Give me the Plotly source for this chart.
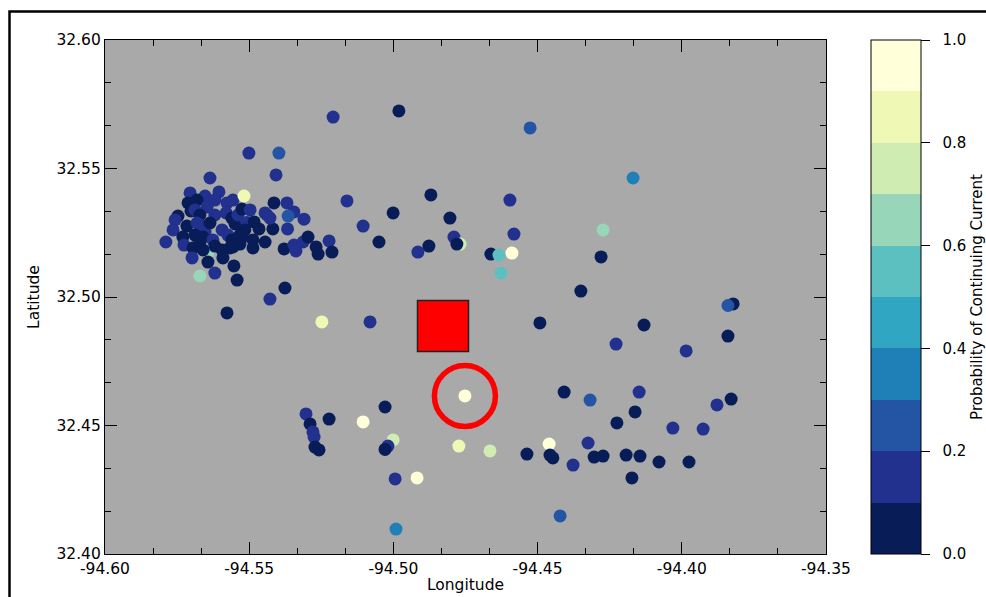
import plotly.graph_objects as go

# ---- data -------------------------------------------------------------
cluster_lon = [-94.5643, -94.5636, -94.5605, -94.5705, -94.5653, -94.5619, -94.5712, -94.5681,
               -94.5702, -94.5688, -94.5646, -94.5619, -94.5577, -94.5556, -94.5580, -94.5747,
               -94.5757, -94.5764, -94.5716, -94.5730, -94.5789, -94.5726, -94.5671, -94.5681,
               -94.5671, -94.5653, -94.5636, -94.5688, -94.5660, -94.5671, -94.5626, -94.5594,
               -94.5574, -94.5695, -94.5660, -94.5619, -94.5594, -94.5567, -94.5560, -94.5525,
               -94.5698, -94.5643, -94.5591, -94.5560, -94.5549, -94.5539, -94.5525, -94.5497,
               -94.5508, -94.5515, -94.5532, -94.5532, -94.5556, -94.5487, -94.5487, -94.5445,
               -94.5483, -94.5466, -94.5418, -94.5445, -94.5438, -94.5428, -94.5414, -94.5369,
               -94.5345, -94.5310, -94.5367, -94.5365, -94.5379, -94.5345, -94.5338, -94.5313,
               -94.5296, -94.5268, -94.5261, -94.5223, -94.5213]
cluster_lat = [32.5175, 32.5463, 32.5409, 32.5405, 32.5393, 32.5377, 32.5366, 32.5377,
               32.5335, 32.5339, 32.5350, 32.5319, 32.5366, 32.5377, 32.5327, 32.5315,
               32.5300, 32.5261, 32.5276, 32.5233, 32.5214, 32.5202, 32.5319, 32.5288,
               32.5280, 32.5253, 32.5288, 32.5241, 32.5233, 32.5214, 32.5222, 32.5261,
               32.5241, 32.5191, 32.5183, 32.5198, 32.5183, 32.5191, 32.5222, 32.5233,
               32.5152, 32.5136, 32.5152, 32.5307, 32.5284, 32.5319, 32.5342, 32.5339,
               32.5290, 32.5261, 32.5241, 32.5206, 32.5195, 32.5222, 32.5191, 32.5214,
               32.5292, 32.5265, 32.5265, 32.5327, 32.5319, 32.5307, 32.5366, 32.5366,
               32.5331, 32.5303, 32.5265, 32.5315, 32.5187, 32.5202, 32.5179, 32.5214,
               32.5233, 32.5195, 32.5167, 32.5218, 32.5175]
cluster_prob = [0.65, 0.15, 0.15, 0.15, 0.15, 0.15, 0.05, 0.05,
                0.05, 0.15, 0.15, 0.15, 0.15, 0.15, 0.15, 0.05,
                0.15, 0.15, 0.05, 0.05, 0.15, 0.15, 0.05, 0.15,
                0.15, 0.15, 0.05, 0.05, 0.05, 0.05, 0.15, 0.15,
                0.15, 0.05, 0.05, 0.05, 0.05, 0.05, 0.05, 0.05,
                0.15, 0.05, 0.05, 0.05, 0.05, 0.15, 0.05, 0.15,
                0.15, 0.05, 0.05, 0.05, 0.05, 0.05, 0.05, 0.05,
                0.05, 0.05, 0.05, 0.15, 0.15, 0.15, 0.05, 0.15,
                0.15, 0.15, 0.15, 0.25, 0.05, 0.15, 0.15, 0.15,
                0.05, 0.05, 0.05, 0.15, 0.05]

other_lon = [-94.5209, -94.4981, -94.4526, -94.5501, -94.5397, -94.5407, -94.5518, -94.5161,
             -94.4870, -94.5001, -94.4804, -94.4596, -94.4582, -94.5105, -94.5050, -94.4790,
             -94.4769, -94.4780, -94.4915, -94.4877, -94.4662, -94.4634, -94.4589, -94.4627,
             -94.4492, -94.5081, -94.5248, -94.5376, -94.5428, -94.5542, -94.5553, -94.5577,
             -94.5619, -94.5671, -94.4169, -94.4273, -94.4280, -94.4350, -94.4131, -94.3822,
             -94.3840, -94.3840, -94.4228, -94.3985, -94.4408, -94.4318, -94.4148, -94.4162,
             -94.4225, -94.4031, -94.3926, -94.3878, -94.3829, -94.4460, -94.4325, -94.4537,
             -94.4457, -94.4447, -94.4377, -94.4304, -94.4273, -94.4193, -94.4145, -94.4079,
             -94.3975, -94.4173, -94.4422, -94.4752, -94.5303, -94.5289, -94.5223, -94.5029,
             -94.5105, -94.5279, -94.5275, -94.5272, -94.5258, -94.5001, -94.5019, -94.5029,
             -94.4773, -94.4665, -94.4994, -94.4918, -94.4991]
other_lat = [32.5700, 32.5724, 32.5658, 32.5560, 32.5560, 32.5475, 32.5393, 32.5374,
             32.5397, 32.5327, 32.5307, 32.5377, 32.5245, 32.5276, 32.5214, 32.5233,
             32.5206, 32.5206, 32.5175, 32.5198, 32.5167, 32.5163, 32.5171, 32.5093,
             32.4899, 32.4903, 32.4903, 32.5035, 32.4992, 32.5066, 32.5121, 32.4938,
             32.5093, 32.5082, 32.5463, 32.5261, 32.5156, 32.5023, 32.4891, 32.4973,
             32.4967, 32.4848, 32.4817, 32.4790, 32.4630, 32.4599, 32.4630, 32.4553,
             32.4510, 32.4490, 32.4486, 32.4580, 32.4603, 32.4428, 32.4432, 32.4389,
             32.4385, 32.4374, 32.4346, 32.4377, 32.4381, 32.4385, 32.4381, 32.4358,
             32.4358, 32.4296, 32.4148, 32.4615, 32.4545, 32.4506, 32.4525, 32.4572,
             32.4514, 32.4475, 32.4455, 32.4416, 32.4405, 32.4444, 32.4420, 32.4407,
             32.4420, 32.4401, 32.4292, 32.4296, 32.4097]
other_prob = [0.15, 0.05, 0.25, 0.15, 0.25, 0.15, 0.85, 0.15,
              0.05, 0.05, 0.05, 0.15, 0.15, 0.15, 0.05, 0.15,
              0.75, 0.05, 0.15, 0.05, 0.05, 0.55, 0.95, 0.55,
              0.05, 0.15, 0.85, 0.05, 0.15, 0.05, 0.05, 0.05,
              0.15, 0.65, 0.35, 0.65, 0.05, 0.05, 0.05, 0.05,
              0.25, 0.05, 0.15, 0.15, 0.05, 0.25, 0.15, 0.05,
              0.05, 0.15, 0.15, 0.15, 0.05, 0.95, 0.15, 0.05,
              0.05, 0.05, 0.15, 0.05, 0.05, 0.05, 0.05, 0.05,
              0.05, 0.05, 0.25, 0.95, 0.15, 0.05, 0.05, 0.05,
              0.95, 0.15, 0.15, 0.05, 0.05, 0.75, 0.15, 0.05,
              0.85, 0.75, 0.15, 0.95, 0.35]

lon = cluster_lon + other_lon
lat = cluster_lat + other_lat
prob = cluster_prob + other_prob

# reference site (square) and highlighted strike (circle)
site_lon = [-94.4828]
site_lat = [32.4887]
ring_lon = [-94.4752]
ring_lat = [32.4615]

x_ticks = [-94.60, -94.55, -94.50, -94.45, -94.40, -94.35]
x_tick_text = ["-94.60", "-94.55", "-94.50", "-94.45", "-94.40", "-94.35"]
y_ticks = [32.40, 32.45, 32.50, 32.55, 32.60]
y_tick_text = ["32.40", "32.45", "32.50", "32.55", "32.60"]
cb_ticks = [0.0, 0.2, 0.4, 0.6, 0.8, 1.0]
cb_tick_text = ["0.0", "0.2", "0.4", "0.6", "0.8", "1.0"]

# discrete YlGnBu_r with 10 levels
bin_colors = ["#081d58", "#21318d", "#2355a4", "#1f80b8", "#31a6c2",
              "#5cc0c0", "#97d6b9", "#cfecb3", "#eff9b5", "#ffffd9"]
colorscale = []
for i, c in enumerate(bin_colors):
    colorscale.append([i / 10, c])
    colorscale.append([(i + 1) / 10, c])

FONT = "DejaVu Sans"
PAD = "\u00a0\u00a0"

fig = go.Figure()
fig.add_trace(go.Scatter(
    x=lon, y=lat, mode="markers",
    marker=dict(
        size=13, color=prob, cmin=0, cmax=1, colorscale=colorscale,
        line=dict(width=0),
        colorbar=dict(
            x=(871 - 105) / 721, xanchor="left", xpad=0,
            y=0.5, yanchor="middle", ypad=0, len=1, lenmode="fraction",
            thickness=50, outlinewidth=1, outlinecolor="black",
            tickmode="array", tickvals=cb_ticks,
            ticktext=[PAD + t for t in cb_tick_text],
            ticks="outside", ticklen=9, tickwidth=1.2, tickcolor="black",
            tickfont=dict(family=FONT, size=15, color="black"),
            title=dict(text="Probability of Continuing Current", side="right",
                       font=dict(family=FONT, size=15, color="black")),
        ),
    ),
    showlegend=False, hoverinfo="x+y",
))
fig.add_trace(go.Scatter(
    x=site_lon, y=site_lat, mode="markers",
    marker=dict(symbol="square", size=51, color="#ff0000",
                line=dict(color="#222222", width=1.5)),
    showlegend=False,
))
fig.add_trace(go.Scatter(
    x=ring_lon, y=ring_lat, mode="markers",
    marker=dict(symbol="circle-open", size=61, color="#ff0000",
                line=dict(width=5.5)),
    showlegend=False,
))

axis_common = dict(
    showline=True, linecolor="black", linewidth=1.2, mirror="ticks",
    ticks="inside", ticklen=12, tickwidth=1.2, tickcolor="black",
    showgrid=False, zeroline=False,
    tickfont=dict(family=FONT, size=15.5, color="black"),
)

fig.update_xaxes(
    range=[-94.60, -94.35], tickmode="array", tickvals=x_ticks, ticktext=x_tick_text,
    minor=dict(ticks="inside", ticklen=6, tickwidth=1.2, tickcolor="black",
               tick0=-94.60, dtick=0.05 / 3, showgrid=False),
    title=dict(text="Longitude", font=dict(family=FONT, size=15.5, color="black"), standoff=2),
    **axis_common,
)
fig.update_yaxes(
    range=[32.40, 32.60], tickmode="array", tickvals=y_ticks, ticktext=y_tick_text,
    minor=dict(ticks="inside", ticklen=6, tickwidth=1.2, tickcolor="black",
               tick0=32.40, dtick=0.05 / 3, showgrid=False),
    title=dict(text="Latitude", font=dict(family=FONT, size=15.5, color="black"), standoff=12),
    **axis_common,
)

# outer figure frame
fig.add_shape(type="rect", xref="paper", yref="paper",
              x0=(9.5 - 105) / 721, x1=(1010 - 105) / 721,
              y0=(554 - 620) / 514, y1=(554 - 11.5) / 514,
              line=dict(color="black", width=2.5), fillcolor="rgba(0,0,0,0)", layer="above")

fig.update_layout(
    width=986, height=597,
    margin=dict(l=105, r=160, t=40, b=43, autoexpand=False),
    paper_bgcolor="white", plot_bgcolor="#a9a9a9",
    font=dict(family=FONT, color="black"),
)

fig.write_html(
    "out.html",
    config={"displayModeBar": False},
    post_script="document.body.style.margin='0';document.body.style.overflow='hidden';",
)
